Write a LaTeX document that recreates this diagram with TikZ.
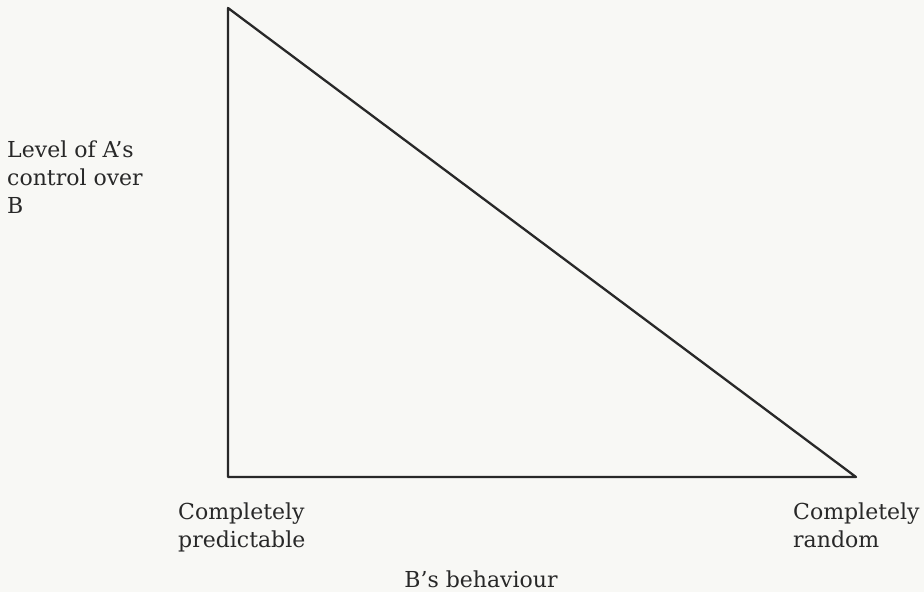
\documentclass[tikz,border=0pt]{standalone}
\usepackage{fontspec}
\setmainfont{DejaVu Serif}
\definecolor{paper}{RGB}{248,248,245}
\definecolor{ink}{RGB}{40,40,40}

\begin{document}
\begin{tikzpicture}[
  x=1pt, y=-1pt,
  edge/.style={draw=ink, line width=2.3pt, line join=round},
  lab/.style={font=\fontsize{22}{28}\selectfont, text=ink, inner sep=0pt, align=left},
]

  % page with the scanned paper tone
  \fill[paper] (0,0) rectangle (924,592);
  \path[use as bounding box] (0,0) rectangle (924,592);

  % --- Corners of the triangle ---
  \coordinate (top) at (228,8);
  \coordinate (origin) at (228,477);
  \coordinate (rand) at (856,477);

  % --- Triangle ---
  \draw[edge] (top) -- (origin) -- (rand) -- cycle;

  % --- Labels (base = baseline of last line) ---
  \node[lab, anchor=base west] (ctrl) at (7,213) {Level of A's\\control over\\B};
  \node[lab, anchor=base west] (pred) at (178,547) {Completely\\predictable};
  \node[lab, anchor=base west] (rnd) at (793,547) {Completely\\random};
  \node[lab, anchor=base] (behav) at (481,587) {B's behaviour};

\end{tikzpicture}
\end{document}
